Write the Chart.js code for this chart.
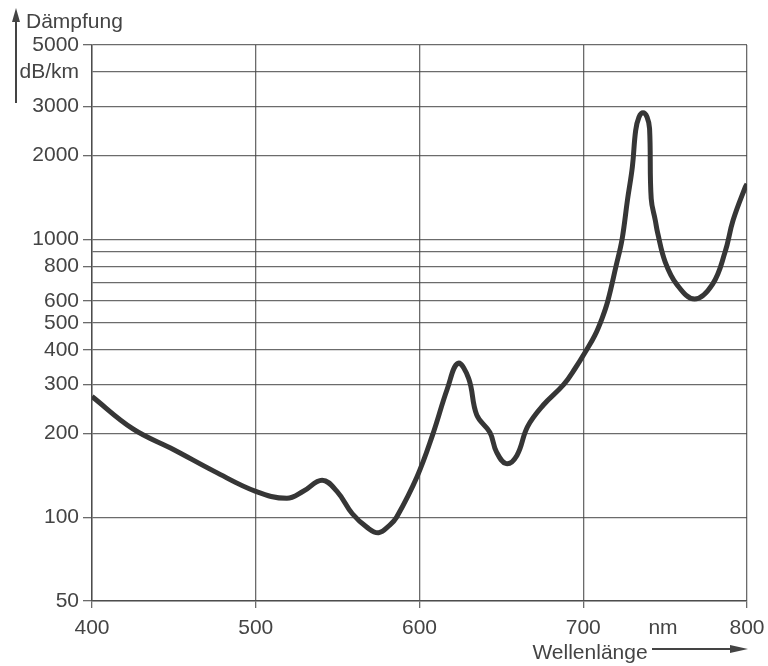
<!DOCTYPE html>
<html>
<head>
  <title>Dämpfung über Wellenlänge</title>
  <style>
    body { margin: 0; background: #fff; }
  </style>
</head>
<body>
  <canvas id="chart" width="768" height="666"></canvas>

  <script src="https://cdn.jsdelivr.net/npm/chart.js"></script>
  <script>
    // Wellenlänge in nm, Dämpfung in dB/km
    const wavelength = [400, 425, 450, 475, 500, 519, 529, 540.5, 549.6, 559, 568, 575, 582, 586,
      598.5, 608, 617, 623.5, 630, 635, 643, 647, 653, 659.5, 666, 675.5, 688, 695, 702, 707, 711.5, 715, 720,
      723.7, 727, 730, 732, 734, 736.5, 739, 740.5, 741.5, 744, 745.5, 750, 757, 768, 779, 786.6, 791.5, 799, 800];
    const attenuation = [272, 208, 175, 146, 124, 117, 124, 136, 124, 103, 92, 88, 94, 100,
      140, 198, 290, 358, 316, 233, 202, 172, 156, 167, 212, 253, 300, 343, 400, 450, 520, 600, 800,
      1000, 1385, 1825, 2460, 2750, 2850, 2750, 2500, 1400, 1170, 1050, 830, 690, 610, 690, 900, 1170, 1543, 1580];

    const xTickValues = [400, 500, 600, 700, 800];
    const yTickValues = [50, 100, 200, 300, 400, 500, 600, 700, 800, 900, 1000, 2000, 3000, 4000, 5000];
    const yTickLabels = ['50', '100', '200', '300', '400', '500', '600', '', '800', '', '1000', '2000', '3000', 'dB/km', '5000'];

    const FONT = 'Liberation Sans, Arial, sans-serif';
    const TEXT = '#444';
    const GRID = 'rgba(70,70,70,0.8)';

    function arrowHead(ctx, x, y, dir) {
      ctx.beginPath();
      if (dir === 'up') {
        ctx.moveTo(x, y); ctx.lineTo(x - 4, y + 14); ctx.lineTo(x + 4, y + 14);
      } else {
        ctx.moveTo(x, y); ctx.lineTo(x - 18, y - 4); ctx.lineTo(x - 18, y + 4);
      }
      ctx.closePath();
      ctx.fill();
    }

    const extraText = {
      id: 'extraText',
      afterDraw(chart) {
        const ctx = chart.ctx;
        ctx.save();
        ctx.fillStyle = TEXT;
        ctx.strokeStyle = TEXT;
        ctx.font = '21px ' + FONT;
        ctx.textBaseline = 'middle';

        // y axis caption with arrow
        ctx.textAlign = 'left';
        ctx.fillText('Dämpfung', 26, 22);
        ctx.lineWidth = 2;
        ctx.beginPath(); ctx.moveTo(16, 103); ctx.lineTo(16, 18); ctx.stroke();
        arrowHead(ctx, 16, 8, 'up');

        // x axis caption with arrow
        ctx.textAlign = 'center';
        ctx.fillText('nm', 663, 628);
        ctx.fillText('Wellenlänge', 590, 653);
        ctx.beginPath(); ctx.moveTo(652, 649); ctx.lineTo(735, 649); ctx.stroke();
        arrowHead(ctx, 748, 649, 'right');
        ctx.restore();
      }
    };

    new Chart(document.getElementById('chart'), {
      type: 'line',
      data: {
        datasets: [{
          data: wavelength.map((w, i) => ({ x: w, y: attenuation[i] })),
          borderColor: '#363636',
          borderWidth: 5,
          pointRadius: 0,
          fill: false,
          tension: 0.4
        }]
      },
      options: {
        responsive: false,
        animation: false,
        layout: { padding: { top: 45, right: 21, left: 0, bottom: 0 } },
        plugins: { legend: { display: false }, tooltip: { enabled: false } },
        scales: {
          x: {
            type: 'linear',
            min: 400,
            max: 800,
            afterBuildTicks: s => { s.ticks = xTickValues.map(v => ({ value: v })); },
            afterFit: s => { s.height = 65; s.paddingLeft = 0; s.paddingRight = 0; },
            border: { color: GRID, width: 1.5 },
            grid: { color: GRID, lineWidth: 1.3, tickLength: 7, tickColor: GRID },
            ticks: { color: TEXT, font: { family: FONT, size: 21 }, padding: 8, maxRotation: 0 }
          },
          y: {
            type: 'logarithmic',
            min: 50,
            max: 5000,
            afterBuildTicks: s => { s.ticks = yTickValues.map(v => ({ value: v })); },
            afterFit: s => { s.width = 92; },
            border: { color: GRID, width: 1.5 },
            grid: {
              color: GRID,
              lineWidth: 1.3,
              tickLength: 9,
              tickColor: c => (c.tick && yTickLabels[yTickValues.indexOf(c.tick.value)] && c.tick.value !== 4000) ? GRID : 'rgba(0,0,0,0)'
            },
            ticks: {
              color: TEXT,
              font: { family: FONT, size: 21 },
              padding: 4,
              autoSkip: false,
              callback: v => yTickLabels[yTickValues.indexOf(v)]
            }
          }
        }
      },
      plugins: [extraText]
    });
  </script>
</body>
</html>
